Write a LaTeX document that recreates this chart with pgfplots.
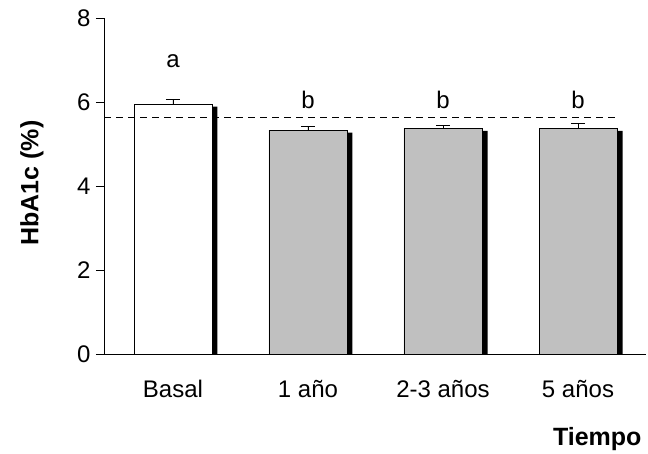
\documentclass[border=0pt]{standalone}
\usepackage{pgfplots}
\pgfplotsset{compat=1.18}
\usepackage{fontspec}
\setmainfont{Liberation Sans}
\definecolor{bargray}{RGB}{192,192,192}
\newcommand{\chartfont}{\fontsize{24bp}{28bp}\selectfont}
\begin{document}
\begin{tikzpicture}
\path[use as bounding box] (0,0) rectangle (648bp,454bp);
\begin{axis}[
  at={(104bp,100bp)}, anchor=south west,
  scale only axis, width=541.5bp, height=336bp,
  xmin=-0.511, xmax=3.5, ymin=0, ymax=8,
  axis x line*=bottom, axis y line*=left,
  axis line style={-, black, line width=0.8pt},
  ytick={0,2,4,6,8},
  xtick={0,1,2,3},
  xticklabels={Basal, 1 año, 2-3 años, 5 años},
  tick align=outside,
  major tick length=8bp,
  y tick style={black, line width=0.8pt},
  x tick style={draw=none},
  tick label style={font=\chartfont},
  /pgf/number format/assume math mode=true,
  yticklabel style={xshift=-2bp},
  xticklabel style={yshift=-15bp},
  clip=false,
]
% shadows
\addplot[ybar, bar width=78bp, bar shift=5.5bp, fill=black, draw=none]
  coordinates {(0,5.89) (1,5.27) (2,5.31) (3,5.31)};
% main bars
\addplot[ybar, bar width=78bp, bar shift=0pt, fill=white, draw=black, line width=0.8pt,
  error bars/.cd, y dir=plus, y explicit,
  error bar style={black, line width=0.8pt},
  error mark options={black, mark size=7bp, line width=0.8pt, rotate=90}]
  coordinates {(0,5.95) +- (0,0.12)};
\addplot[ybar, bar width=78bp, bar shift=0pt, fill=bargray, draw=black, line width=0.8pt,
  error bars/.cd, y dir=plus, y explicit,
  error bar style={black, line width=0.8pt},
  error mark options={black, mark size=7bp, line width=0.8pt, rotate=90}]
  coordinates {(1,5.33) +- (0,0.10) (2,5.37) +- (0,0.07) (3,5.37) +- (0,0.11)};
% reference line
\addplot[black, line width=0.8pt, dash pattern=on 7bp off 5bp]
  coordinates {(-0.511,5.63) (3.289,5.63)};
\node[anchor=base, font=\chartfont] at (axis cs:0,6.83) {a};
\node[anchor=base, font=\chartfont] at (axis cs:1,5.85) {b};
\node[anchor=base, font=\chartfont] at (axis cs:2,5.85) {b};
\node[anchor=base, font=\chartfont] at (axis cs:3,5.85) {b};
\end{axis}
\node[rotate=90, font=\fontsize{25bp}{30bp}\selectfont\bfseries] at (32bp,271bp) {HbA1c (\%)};
\node[anchor=base east, font=\fontsize{25bp}{30bp}\selectfont\bfseries] at (645bp,9bp) {Tiempo};
\end{tikzpicture}
\end{document}
